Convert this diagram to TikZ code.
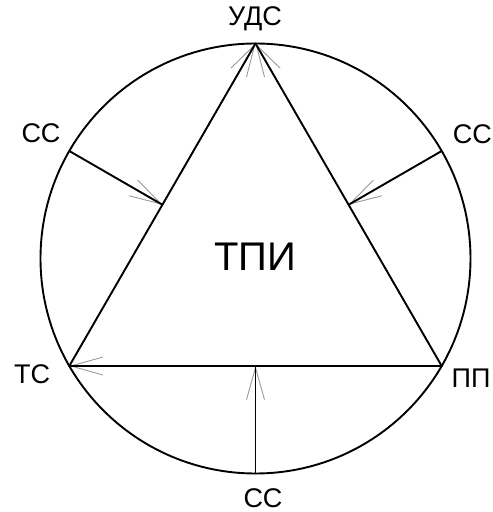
\documentclass[tikz,border=0pt]{standalone}
\usepackage{fontspec}
\setmainfont{Liberation Sans}
\usetikzlibrary{arrows.meta,calc}
\begin{document}
\begin{tikzpicture}[x=1pt,y=1pt,
  edge/.style={line width=1.9pt, black, line cap=round},
  tipline/.style={draw=gray!80, line width=0.9pt, -{Straight Barb[length=32pt,width=18pt,line width=0.9pt,color=gray!80]}},
  rim/.style={line width=1.9pt, black},
  lbl/.style={inner sep=0pt, font=\fontsize{27}{30}\selectfont},
  big/.style={inner sep=0pt, font=\fontsize{40}{44}\selectfont}]
\useasboundingbox (0,0) rectangle (493,512);
\coordinate (O) at (255.5,253.5);
\draw[rim] (O) circle (215);
\coordinate (udc) at ($(O)+(90:215)$);
\coordinate (tc)  at ($(O)+(210:215)$);
\coordinate (pp)  at ($(O)+(330:215)$);
\coordinate (cl)  at ($(O)+(150:215)$);
\coordinate (cr)  at ($(O)+(30:215)$);
\coordinate (cb)  at ($(O)+(270:215)$);
\coordinate (ml) at ($(udc)!0.5!(tc)$);
\coordinate (mr) at ($(udc)!0.5!(pp)$);
\coordinate (mb) at ($(tc)!0.5!(pp)$);
% arrow tips (under the black lines)
\draw[tipline] (tc) -- (udc);
\draw[tipline] (pp) -- (udc);
\draw[tipline] (pp) -- (tc);
\draw[tipline] (cl) -- (ml);
\draw[tipline] (cr) -- (mr);
\draw[tipline] (cb) -- (mb);
% black connectors
\draw[edge] (tc) -- (udc);
\draw[edge] (pp) -- (udc);
\draw[edge] (pp) -- (tc);
\draw[edge] (cl) -- (ml);
\draw[edge] (cr) -- (mr);
\draw[edge] (cb) -- (mb);
% labels
\node[lbl] (Ludc) at (255,493) {УДС};
\node[lbl] (Lcl) at (41,379) {СС};
\node[lbl,anchor=east] (Lcr) at (492,378) {СС};
\node[lbl] (Ltc) at (32,138) {ТС};
\node[lbl] (Lpp) at (471,134) {ПП};
\node[lbl] (Lcb) at (263,14) {СС};
\node[big] (Ltpi) at (255,255) {ТПИ};
\end{tikzpicture}
\end{document}
